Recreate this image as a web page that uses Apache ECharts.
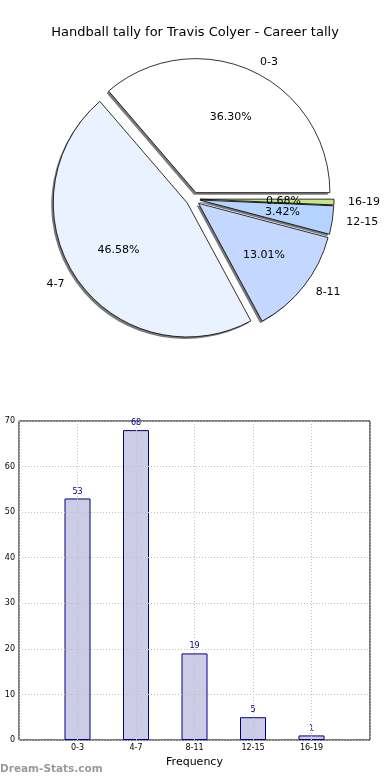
<!DOCTYPE html>
<html>
<head>
<meta charset="utf-8">
<script src="https://cdn.jsdelivr.net/npm/echarts@6/dist/echarts.min.js"></script>
<style>
html,body{margin:0;padding:0;background:#fff;}
#c{width:390px;height:780px;}
</style>
</head>
<body>
<div id="c"></div>
<script>
const titleText = 'Handball tally for Travis Colyer - Career tally';
const categories = ['0-3', '4-7', '8-11', '12-15', '16-19'];
const counts = [53, 68, 19, 5, 1];
const sliceColors = ['#ffffff', '#eaf1ff', '#c4d8ff', '#b4d4ff', '#c6e48a'];
const yTicks = [0, 10, 20, 30, 40, 50, 60, 70];

const total = counts.reduce((a, b) => a + b, 0);
const R = 134;
const CX = 193, CY = 199;
const OFF = 7;

const pieShadow = categories.map((c, i) => ({ name: c, value: counts[i], selected: true }));
const pieMain = categories.map((c, i) => ({
  name: c, value: counts[i], selected: true,
  itemStyle: { color: sliceColors[i] }
}));
const pieLbl = categories.map((c, i) => ({
  name: c, value: counts[i], selected: true,
  label: { formatter: (counts[i] / total * 100).toFixed(2) + '%' }
}));

const pieCommon = {
  type: 'pie', startAngle: 0, clockwise: false,
  selectedMode: 'multiple', selectedOffset: OFF,
  avoidLabelOverlap: false, silent: true, minShowLabelAngle: 0,
  labelLayout: { hideOverlap: false },
  emphasis: { disabled: true }
};

const chart = echarts.init(document.getElementById('c'), null, { renderer: 'canvas' });
chart.setOption({
  animation: false,
  backgroundColor: '#ffffff',
  textStyle: { fontFamily: 'DejaVu Sans' },
  title: {
    text: titleText, left: 'center', top: 21,
    textStyle: { fontFamily: 'DejaVu Sans', fontSize: 13, fontWeight: 'normal', color: '#000' }
  },
  graphic: [{
    type: 'text', left: 0, top: 764,
    style: { text: 'Dream-Stats.com', font: 'bold 10.5px "DejaVu Sans"', fill: '#9a9a9a' }
  }],
  grid: {
    left: 19, right: 20, top: 421, bottom: 40,
    show: true, borderColor: '#000', borderWidth: 1, backgroundColor: 'transparent'
  },
  xAxis: {
    type: 'value', min: 0, max: 6, interval: 1, z: 5,
    axisLine: { show: false }, axisTick: { show: false },
    axisLabel: {
      fontSize: 8, color: '#000', margin: 4, fontFamily: 'DejaVu Sans',
      formatter: v => categories[v - 1] || ''
    },
    splitLine: { show: true, lineStyle: { color: '#c0c0c0', type: [1, 2], width: 1 } },
    name: 'Frequency', nameLocation: 'middle', nameGap: 17,
    nameTextStyle: { fontSize: 11, color: '#000', fontFamily: 'DejaVu Sans' }
  },
  yAxis: {
    type: 'value', min: 0, max: 70, interval: 10, z: 5,
    axisLine: { show: false }, axisTick: { show: false },
    axisLabel: { fontSize: 8, color: '#000', margin: 4, fontFamily: 'DejaVu Sans' },
    splitLine: { show: true, lineStyle: { color: '#c0c0c0', type: [1, 2], width: 1 } }
  },
  series: [
    Object.assign({}, pieCommon, {
      center: [CX - 2, CY + 2], radius: [0, R],
      itemStyle: { color: '#7a7a7a', borderWidth: 0 },
      label: { show: false }, labelLine: { show: false },
      data: pieShadow
    }),
    Object.assign({}, pieCommon, {
      center: [CX, CY], radius: [0, R],
      itemStyle: { borderColor: '#000', borderWidth: 0.8 },
      label: {
        show: true, position: 'outside', formatter: '{b}',
        fontSize: 11, color: '#000', fontFamily: 'DejaVu Sans', distanceToLabelLine: 4
      },
      labelLine: { show: false, length: 10, length2: 0 },
      data: pieMain
    }),
    Object.assign({}, pieCommon, {
      center: [CX, CY], radius: [R * 0.2, R],
      itemStyle: { color: 'rgba(0,0,0,0)', borderWidth: 0 },
      label: { show: true, position: 'inside', fontSize: 11, lineHeight: 9, color: '#000', fontFamily: 'DejaVu Sans' },
      labelLine: { show: false },
      data: pieLbl
    }),
    {
      type: 'bar', xAxisIndex: 0, yAxisIndex: 0, barWidth: 26, z: 2,
      data: counts.map((v, i) => [i + 1, v]),
      itemStyle: { color: '#ccccE6', borderColor: '#000080', borderWidth: 1 },
      label: { show: true, position: 'top', distance: 3, fontSize: 8, color: '#000080', fontFamily: 'DejaVu Sans' },
      emphasis: { disabled: true },
      silent: true
    }
  ]
});
</script>
</body>
</html>
